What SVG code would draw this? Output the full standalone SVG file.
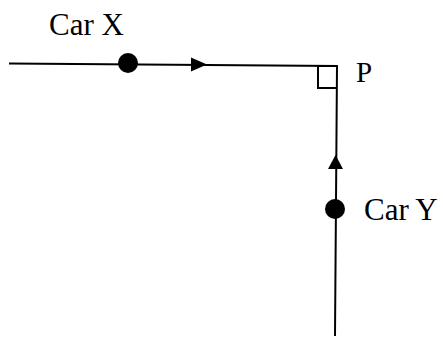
<svg xmlns="http://www.w3.org/2000/svg" width="443" height="340" viewBox="0 0 443 340">
<style>
.ln{stroke:#000;stroke-width:2;fill:none}
.lbl{font-family:"Liberation Serif","Times New Roman",serif;font-size:31px;fill:#000}
.dot{fill:#000}
.arr{fill:#000}
</style>
<rect width="443" height="340" fill="#fff"/>
<g id="connectors">
<path class="ln" d="M9 63.5 L337 66 L335 336"/>
<path id="angle" class="ln" d="M337 66 L318 66 L318 88 L336.8 88" stroke-width="1.6"/>
<polygon class="arr" points="207,64.5 191,57.5 191,71.5"/>
<polygon class="arr" points="335.5,155 328,169 343,169"/>
</g>
<g id="carX">
<circle class="dot" cx="128" cy="63" r="10"/>
<text class="lbl" x="49" y="35">Car X</text>
</g>
<g id="carY">
<circle class="dot" cx="335" cy="209" r="10"/>
<text class="lbl" x="364" y="220">Car Y</text>
</g>
<g id="P">
<text class="lbl" x="356" y="82" style="font-size:29px">P</text>
</g>
</svg>
